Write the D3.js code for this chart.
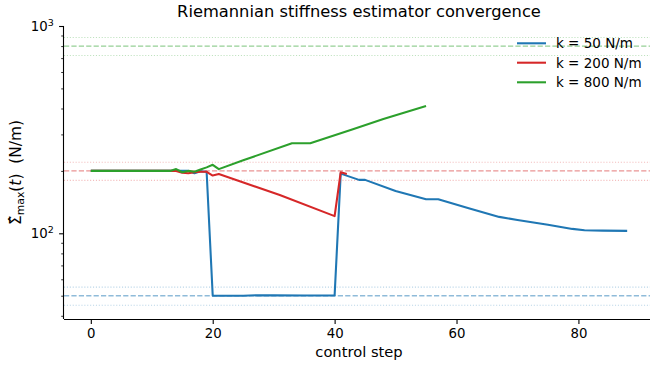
<!DOCTYPE html>
<html>
<head>
<meta charset="utf-8">
<script src="https://cdn.jsdelivr.net/npm/d3@7"></script>
<style>
  html, body { margin: 0; padding: 0; background: #fff; }
  svg { display: block; font-family: "DejaVu Sans", sans-serif; }
</style>
</head>
<body>
<svg id="chart" width="650" height="369"></svg>
<script>
// ---- data ----
const seriesNames = ["k = 50 N/m", "k = 200 N/m", "k = 800 N/m"];
const stiffness = [50, 200, 800];
const seriesColors = ["#1f77b4", "#d62728", "#2ca02c"];

const blueSteps = [0, 16, 17, 18, 19, 20, 25, 28, 30, 35, 40, 41, 44, 45, 50, 55, 57, 62, 67, 70, 75, 79, 81, 84, 88];
const blueVals  = [200, 200, 195, 199, 198, 50, 50, 50.3, 50.2, 50.1, 50.2, 194, 181, 181, 160, 146, 146, 132, 120, 116, 110, 105, 103.5, 103, 102.7];

const redSteps = [0, 14, 15, 16, 17, 18, 19, 20, 21, 31, 40, 41, 42];
const redVals  = [200, 200, 196, 195, 197, 198, 198, 190, 193, 153, 121, 197, 193];

const greenSteps = [0, 13, 14, 15, 16, 17, 18, 19, 20, 21, 25, 33, 36, 43, 48, 55];
const greenVals  = [200, 200, 204, 197, 200, 198, 203, 208, 214, 204, 225, 272, 272, 318, 356, 411];

const xTicks = [0, 20, 40, 60, 80];
const yMajorTicks = [100, 1000];
const yMinorTicks = [40, 50, 60, 70, 80, 90, 200, 300, 400, 500, 600, 700, 800, 900];

const titleText = "Riemannian stiffness estimator convergence";
const xLabelText = "control step";

// ---- layout ----
const svg = d3.select("#chart");
const pLeft = 64, pRight = 654, pTop = 26, pBottom = 319;
const x = d3.scaleLinear().domain([-4.4, 92.4]).range([pLeft, pRight]);
const y = d3.scaleLog().domain([38.6, 1000]).range([pBottom, pTop]);

const TICK_FS = 13.3, LABEL_FS = 14.7, YLABEL_FS = 15.4, LEG_FS = 13.5, TITLE_FS = 16.3;

// reference lines
const refG = svg.append("g");
stiffness.forEach((k, i) => {
  refG.append("line")
    .attr("x1", pLeft).attr("x2", pRight)
    .attr("y1", y(k)).attr("y2", y(k))
    .attr("stroke", seriesColors[i]).attr("stroke-opacity", 0.5)
    .attr("stroke-width", 1.4).attr("stroke-dasharray", "5.2,2.2");
  [1.1, 0.9].forEach(f => {
    refG.append("line")
      .attr("x1", pLeft).attr("x2", pRight)
      .attr("y1", y(k * f)).attr("y2", y(k * f))
      .attr("stroke", seriesColors[i]).attr("stroke-opacity", 0.3)
      .attr("stroke-width", 1.1).attr("stroke-dasharray", "1.1,1.8");
  });
});

// series
const series = [
  { steps: blueSteps, vals: blueVals },
  { steps: redSteps, vals: redVals },
  { steps: greenSteps, vals: greenVals }
];
const line = d3.line().x(d => x(d[0])).y(d => y(d[1]));
series.forEach((s, i) => {
  const pts = s.steps.map((st, j) => [st, s.vals[j]]);
  svg.append("path").datum(pts)
    .attr("d", line)
    .attr("fill", "none")
    .attr("stroke", seriesColors[i])
    .attr("stroke-width", 2.08)
    .attr("stroke-linejoin", "round")
    .attr("stroke-linecap", "butt");
});

// axes
const xAxis = d3.axisBottom(x).tickValues(xTicks).tickSize(4.9).tickPadding(4.9).tickFormat(d3.format("d"));
const gx = svg.append("g").attr("transform", `translate(0,${pBottom})`).call(xAxis);
gx.select(".domain").attr("d", `M${pLeft},0.5H${pRight}`).attr("stroke", "#000").attr("stroke-width", 1.1);
gx.selectAll(".tick line").attr("stroke", "#000").attr("stroke-width", 1.1);
gx.selectAll(".tick text").attr("font-size", TICK_FS).attr("font-family", "DejaVu Sans").attr("fill", "#000");

const yAxisMinor = d3.axisLeft(y).tickValues(yMinorTicks).tickSize(2.8).tickFormat("");
const gym = svg.append("g").attr("transform", `translate(${pLeft},0)`).call(yAxisMinor);
gym.select(".domain").remove();
gym.selectAll(".tick line").attr("stroke", "#000").attr("stroke-width", 0.8);

const yAxis = d3.axisLeft(y).tickValues(yMajorTicks).tickSize(4.9).tickPadding(4.9).tickFormat("");
const gy = svg.append("g").attr("transform", `translate(${pLeft},0)`).call(yAxis);
gy.select(".domain").attr("d", `M-0.5,${pTop}V${pBottom}`).attr("stroke", "#000").attr("stroke-width", 1.1);
gy.selectAll(".tick line").attr("stroke", "#000").attr("stroke-width", 1.1);
gy.selectAll(".tick").each(function(d) {
  const t = d3.select(this).append("text")
    .attr("x", -10.2).attr("dy", "0.32em")
    .attr("text-anchor", "end").attr("fill", "#000")
    .attr("font-size", TICK_FS).attr("font-family", "DejaVu Sans");
  t.append("tspan").text("10");
  t.append("tspan").attr("dy", -5).attr("font-size", 9.5).text(String(Math.round(Math.log10(d))));
});

// title
svg.append("text").attr("x", (pLeft + pRight) / 2).attr("y", 16.7)
  .attr("text-anchor", "middle").attr("font-size", TITLE_FS).attr("fill", "#000")
  .text(titleText);

// x label
svg.append("text").attr("x", (pLeft + pRight) / 2).attr("y", 357)
  .attr("text-anchor", "middle").attr("font-size", LABEL_FS).attr("fill", "#000")
  .text(xLabelText);

// y label (mathtext-like)
const yl = svg.append("text")
  .attr("transform", `translate(20.5,${(pTop + pBottom) / 2}) rotate(-90)`)
  .attr("text-anchor", "middle").attr("font-size", YLABEL_FS).attr("fill", "#000");
yl.append("tspan").text("\u03A3\u0302");
yl.append("tspan").attr("font-size", 10.8).attr("dy", 3.2).text("max");
yl.append("tspan").attr("dy", -3.2).text("(");
yl.append("tspan").attr("font-style", "italic").text("t");
yl.append("tspan").text(")");
yl.append("tspan").text("\u00A0\u00A0(N/m)");

// legend
const legY = [43.3, 62.7, 82.3];
seriesNames.forEach((name, i) => {
  svg.append("line").attr("x1", 517).attr("x2", 546)
    .attr("y1", legY[i]).attr("y2", legY[i])
    .attr("stroke", seriesColors[i]).attr("stroke-width", 2.08);
  svg.append("text").attr("x", 556).attr("y", legY[i]).attr("dy", "0.36em")
    .attr("font-size", LEG_FS).attr("fill", "#000").text(name);
});
</script>
</body>
</html>
